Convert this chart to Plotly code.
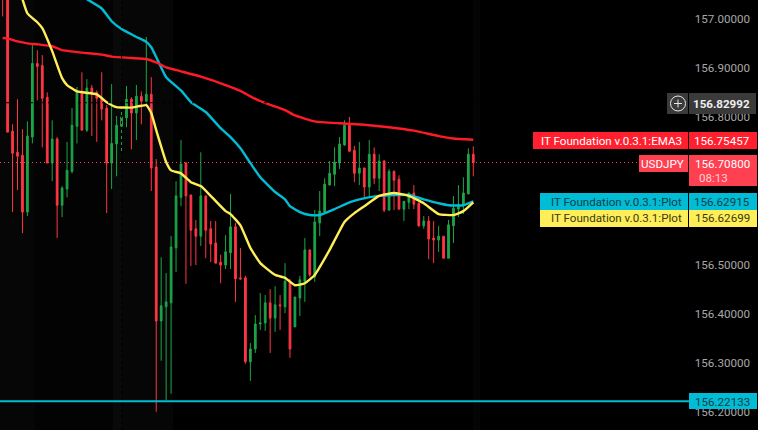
import plotly.graph_objects as go

# --- data: prices ---
candle_index = list(range(-1, 95))
opens = [157.060,157.060,156.772,156.729,156.723,156.607,156.760,156.910,156.906,156.841,156.707,156.756,156.621,156.654,156.690,156.782,156.853,156.774,156.860,156.851,156.841,156.819,156.707,156.746,156.782,156.799,156.837,156.809,156.843,156.833,156.847,156.699,156.385,156.414,156.422,156.534,156.637,156.707,156.642,156.573,156.558,156.640,156.573,156.544,156.505,156.499,156.524,156.577,156.473,156.473,156.302,156.328,156.379,156.381,156.422,156.391,156.418,156.414,156.466,156.373,156.432,156.466,156.530,156.475,156.585,156.607,156.662,156.684,156.707,156.744,156.784,156.733,156.686,156.697,156.658,156.725,156.676,156.711,156.611,156.690,156.674,156.613,156.627,156.646,156.625,156.579,156.589,156.554,156.550,156.558,156.513,156.579,156.613,156.621,156.644,156.725]
highs = [157.070,157.065,156.786,156.837,156.776,156.792,156.951,156.937,156.927,156.851,156.794,156.760,156.660,156.750,156.819,156.862,156.892,156.878,156.866,156.855,156.892,156.825,156.868,156.803,156.821,156.864,156.841,156.866,156.853,156.964,156.882,156.715,156.515,156.483,156.558,156.670,156.754,156.709,156.642,156.591,156.729,156.640,156.589,156.589,156.520,156.560,156.644,156.585,156.534,156.477,156.340,156.397,156.442,156.438,156.450,156.456,156.438,156.503,156.471,156.434,156.477,156.554,156.530,156.611,156.650,156.676,156.711,156.739,156.760,156.794,156.801,156.742,156.750,156.697,156.754,156.739,156.725,156.713,156.695,156.692,156.682,156.629,156.646,156.662,156.627,156.599,156.599,156.589,156.579,156.558,156.591,156.640,156.662,156.678,156.737,156.741]
lows = [157.006,156.770,156.607,156.652,156.564,156.599,156.747,156.835,156.739,156.707,156.670,156.554,156.597,156.637,156.686,156.747,156.774,156.770,156.762,156.750,156.794,156.605,156.654,156.680,156.727,156.780,156.735,156.754,156.786,156.825,156.650,156.200,156.304,156.224,156.237,156.485,156.619,156.461,156.497,156.499,156.538,156.513,156.505,156.503,156.462,156.491,156.491,156.424,156.469,156.298,156.263,156.320,156.367,156.365,156.320,156.363,156.367,156.401,156.310,156.373,156.395,156.424,156.475,156.465,156.558,156.607,156.662,156.660,156.695,156.742,156.731,156.668,156.662,156.637,156.640,156.664,156.650,156.607,156.611,156.611,156.613,156.589,156.613,156.613,156.577,156.573,156.511,156.503,156.526,156.513,156.513,156.544,156.597,156.603,156.644,156.680]
closes = [157.045,156.770,156.727,156.721,156.607,156.762,156.910,156.904,156.839,156.707,156.756,156.621,156.656,156.692,156.784,156.855,156.774,156.860,156.850,156.839,156.817,156.707,156.747,156.784,156.801,156.837,156.809,156.843,156.833,156.847,156.697,156.385,156.416,156.424,156.536,156.640,156.705,156.640,156.570,156.558,156.640,156.570,156.542,156.503,156.499,156.526,156.577,156.471,156.471,156.302,156.328,156.379,156.381,156.422,156.391,156.418,156.416,156.466,156.328,156.434,156.469,156.530,156.479,156.587,156.609,156.664,156.686,156.709,156.746,156.784,156.731,156.686,156.697,156.658,156.725,156.676,156.711,156.611,156.690,156.672,156.613,156.629,156.646,156.623,156.579,156.589,156.552,156.550,156.558,156.513,156.581,156.615,156.623,156.646,156.725,156.708]

ema3_index = [-1,0,2,4,6,9,11,15,19,21,25,28,30,32,35,39,44,47,49,51,56,58,62,67,72,77,82,87,90,94]
ema3_values = [156.962,156.961,156.955,156.951,156.949,156.945,156.937,156.932,156.928,156.924,156.921,156.919,156.912,156.902,156.894,156.883,156.866,156.854,156.843,156.833,156.815,156.804,156.792,156.788,156.785,156.780,156.773,156.762,156.757,156.75457]

plot_cyan_index = [16,19,21,23,26,28,29,30,32,35,37,40,43,45,47,49,51,54,56,57,59,61,63,66,69,71,75,81,84,87,89,92,94]
plot_cyan_values = [157.041,157.022,156.996,156.980,156.964,156.954,156.943,156.923,156.882,156.855,156.831,156.811,156.778,156.760,156.737,156.707,156.678,156.648,156.633,156.619,156.607,156.601,156.601,156.613,156.627,156.633,156.640,156.642,156.633,156.625,156.621,156.621,156.62915]

plot_yellow_index = [3,4,6,7,9,11,12,14,18,20,22,25,28,29,30,32,33,35,37,39,41,44,45,47,49,51,54,56,58,60,62,65,68,70,72,75,78,81,84,87,90,92,94]
plot_yellow_values = [157.041,157.012,156.994,156.982,156.935,156.880,156.866,156.853,156.847,156.831,156.821,156.820,156.825,156.809,156.774,156.709,156.692,156.686,156.668,156.660,156.640,156.609,156.603,156.580,156.534,156.503,156.479,156.473,156.458,156.462,156.479,156.530,156.587,156.605,156.619,156.640,156.646,156.640,156.625,156.603,156.601,156.609,156.62699]

tick_values = [157.0, 156.9, 156.8, 156.5, 156.4, 156.3, 156.2]
tick_labels = ["157.00000", "156.90000", "156.80000", "156.50000", "156.40000", "156.30000", "156.20000"]
hline_price = 156.22133
last_price = 156.708
crosshair_price = 156.82992
crosshair_index = 23

W, H = 758, 430
UP, DOWN = "#1ca548", "#ff3644"
def X(px): return px / W
def Y(py): return 1 - py / H

fig = go.Figure()
fig.add_trace(go.Candlestick(
    x=candle_index, open=opens, high=highs, low=lows, close=closes,
    increasing=dict(line=dict(color=UP, width=1), fillcolor=UP),
    decreasing=dict(line=dict(color=DOWN, width=1), fillcolor=DOWN),
    whiskerwidth=0, hoverinfo="skip", showlegend=False))
for xs, ys, col in [(plot_cyan_index, plot_cyan_values, "#00bcd4"),
                    (ema3_index, ema3_values, "#ff1a28"),
                    (plot_yellow_index, plot_yellow_values, "#ffee58")]:
    fig.add_trace(go.Scatter(x=xs, y=ys, mode="lines", hoverinfo="skip", showlegend=False,
                             line=dict(color=col, width=2.4, shape="spline", smoothing=0.4)))

shapes = []
def band(x0, x1, col):
    shapes.append(dict(type="rect", xref="paper", yref="paper", x0=X(x0), x1=X(x1), y0=0, y1=1,
                       fillcolor=col, line_width=0, layer="below"))
band(0, 35, "#060606"); band(35, 113, "#030303"); band(113, 122, "#090909"); band(122, 173, "#060606")
band(473, 480, "#040404")

shapes.append(dict(type="line", xref="paper", yref="y", x0=0, x1=X(689), y0=hline_price, y1=hline_price,
                   line=dict(color="#00bcd4", width=2)))
shapes.append(dict(type="line", xref="paper", yref="y", x0=0, x1=X(639), y0=last_price, y1=last_price,
                   line=dict(color="#ff4d58", width=1, dash="1px,3px")))
# crosshair: black dashes, only visible over marks
shapes.append(dict(type="line", xref="paper", yref="y", x0=0, x1=X(667), y0=crosshair_price, y1=crosshair_price,
                   line=dict(color="#000000", width=1, dash="3px,3px")))
shapes.append(dict(type="line", xref="x", yref="paper", x0=crosshair_index, x1=crosshair_index, y0=0, y1=1,
                   line=dict(color="#000000", width=1, dash="3px,3px")))

def box(x0, x1, y0, y1, col):
    shapes.append(dict(type="rect", xref="paper", yref="paper", x0=X(x0), x1=X(x1), y0=Y(y1), y1=Y(y0),
                       fillcolor=col, line_width=0, layer="above"))
box(667, 688, 93, 114, "#3a3a3a"); box(689, 756, 93, 114, "#3a3a3a")
box(533, 688, 132, 149, "#ff1f2e"); box(689, 757, 132, 149, "#ff1f2e")
box(639, 688, 155, 172, "#ff4050"); box(689, 757, 155, 186, "#ff4050")
box(540, 688, 193, 210, "#00bcd4"); box(689, 757, 193, 210, "#00bcd4")
box(540, 688, 210, 227, "#ffee58"); box(689, 757, 210, 227, "#ffee58")
box(689, 757, 393, 409, "#00bcd4")
shapes.append(dict(type="circle", xref="paper", yref="paper", x0=X(670.5), x1=X(685.5), y0=Y(111), y1=Y(96),
                   line=dict(color="#e8e8e8", width=1), layer="above"))
shapes.append(dict(type="line", xref="paper", yref="paper", x0=X(674), x1=X(682), y0=Y(103.5), y1=Y(103.5),
                   line=dict(color="#e8e8e8", width=1), layer="above"))
shapes.append(dict(type="line", xref="paper", yref="paper", x0=X(678), x1=X(678), y0=Y(99.5), y1=Y(107.5),
                   line=dict(color="#e8e8e8", width=1), layer="above"))

FONT = "Roboto"
SIZE = 11.6
def text(px, py, s, col, anchor="right", size=SIZE):
    return dict(xref="paper", yref="paper", x=X(px), y=Y(py), text=s, showarrow=False,
                xanchor=anchor, yanchor="middle", align=anchor,
                font=dict(family=FONT, size=size, color=col))

annotations = [
    text(752, 103.5, "<b>156.82992</b>", "#f0f0f0"),
    text(684, 140.5, "IT Foundation v.0.3.1:EMA3", "#ffffff"),
    text(752, 140.5, "156.75457", "#ffffff"),
    text(686, 163.5, "USDJPY", "#ffffff"),
    text(752, 163.5, "156.70800", "#ffffff"),
    text(697, 178, "08:13", "#ffd0d4", "left"),
    text(684, 201.5, "IT Foundation v.0.3.1:Plot", "#10404a"),
    text(752, 201.5, "156.62915", "#10404a"),
    text(684, 218.5, "IT Foundation v.0.3.1:Plot", "#3a3a10"),
    text(752, 218.5, "156.62699", "#3a3a10"),
    text(752, 401.5, "156.22133", "#10404a"),
]

fig.update_layout(
    width=W, height=H, margin=dict(l=0, r=0, t=0, b=0),
    paper_bgcolor="#000000", plot_bgcolor="#000000",
    showlegend=False, hovermode=False, boxgap=0.5,
    shapes=shapes, annotations=annotations,
    xaxis=dict(range=[-1.534, 151.47], showgrid=False, zeroline=False, visible=False,
               rangeslider=dict(visible=False)),
    yaxis=dict(range=[156.1629, 157.0393], side="right", showgrid=False, zeroline=False,
               showline=False, ticklabelposition="inside", tickmode="array",
               tickvals=tick_values, ticktext=tick_labels, ticks="", ticklabelstandoff=5,
               tickfont=dict(family=FONT, size=SIZE, color="#a8a8a8")),
)
fig.write_html("out.html", config=dict(displayModeBar=False),
               post_script="document.body.style.margin='0';document.body.style.background='#000';")
